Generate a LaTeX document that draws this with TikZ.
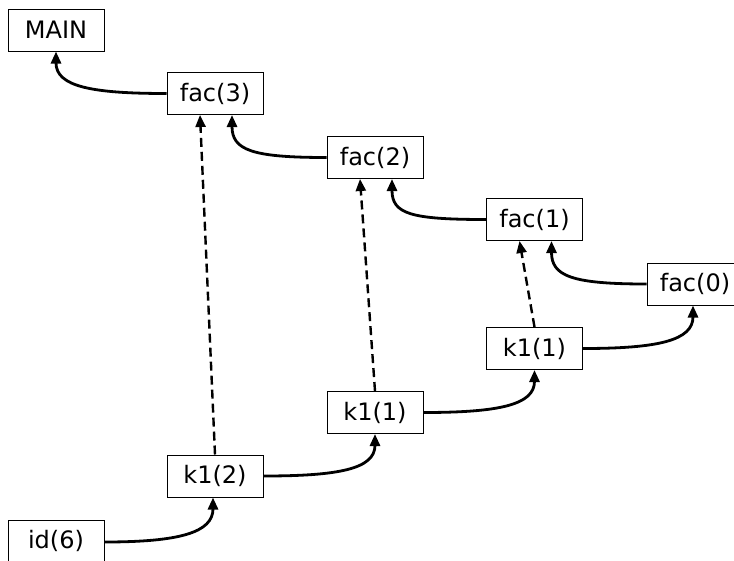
\documentclass[tikz,border=0pt]{standalone}
\usepackage{fontspec}
\setmainfont{DejaVu Sans}
\usetikzlibrary{arrows.meta}
\begin{document}
\begin{tikzpicture}[x=1pt,y=-1pt,
  frame/.style={draw, line width=1pt, minimum width=96pt, minimum height=42pt,
    inner sep=0pt, font=\fontsize{24}{28}\selectfont},
  tip/.style={-{Triangle[length=12pt,width=10pt]}},
  call/.style={tip, line width=2.8pt},
  cont/.style={tip, line width=2.4pt, dash pattern=on 9pt off 5pt}]
\useasboundingbox (0,0) rectangle (734,560);

% call frames on a diagonal grid
\node[frame] (main) at (56,30)    {MAIN};
\node[frame] (f3)   at (215,93.5) {fac(3)};
\node[frame] (f2)   at (375,157.5){fac(2)};
\node[frame] (f1)   at (534.5,219.5){fac(1)};
\node[frame] (f0)   at (695,284)  {fac(0)};
\node[frame] (ka)   at (534.5,348.5){k1(1)};
\node[frame] (kb)   at (375,412.5){k1(1)};
\node[frame] (kc)   at (215,476)  {k1(2)};
\node[frame] (id)   at (56,541)   {id(6)};

% return links
\draw[call] (f3.west) .. controls +(-75,0) and +(0,35) .. (main.south);
\draw[call] (f2.west) .. controls +(-75,0) and +(0,35) .. ([xshift=17pt]f3.south);
\draw[call] (f1.west) .. controls +(-75,0) and +(0,35) .. ([xshift=17pt]f2.south);
\draw[call] (f0.west) .. controls +(-75,0) and +(0,35) .. ([xshift=17pt]f1.south);

% continuation links
\draw[call] ([yshift=-1pt]id.east) .. controls +(75,0) and +(0,35) .. ([xshift=-2pt]kc.south);
\draw[call] (kc.east) .. controls +(75,0) and +(0,35) .. (kb.south);
\draw[call] (kb.east) .. controls +(75,0) and +(0,35) .. (ka.south);
\draw[call] (ka.east) .. controls +(75,0) and +(0,35) .. ([xshift=-2pt]f0.south);

% captured continuations
\draw[cont] (kc.north) -- ([xshift=-15pt]f3.south);
\draw[cont] (kb.north) -- ([xshift=-15pt]f2.south);
\draw[cont] (ka.north) -- ([xshift=-15pt]f1.south);
\end{tikzpicture}
\end{document}
